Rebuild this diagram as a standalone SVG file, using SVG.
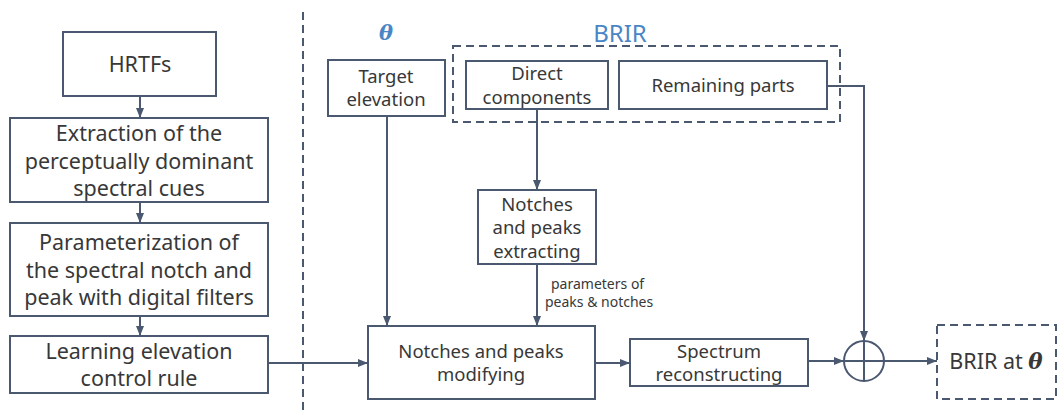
<svg xmlns="http://www.w3.org/2000/svg" width="1057" height="412" viewBox="0 0 1057 412">
<style>
.box{fill:#fff;stroke:#4a5870;stroke-width:2}
.dash{fill:none;stroke:#4a5870;stroke-width:2;stroke-dasharray:8,5}
.ln{fill:none;stroke:#4a5870;stroke-width:2}
.t{font-family:"Noto Sans","Open Sans",sans-serif;fill:#383838;text-anchor:middle}
.l{font-size:21.5px}
.m{font-size:18.5px}
.s{font-size:14px}
.b{fill:#4a86c5}
</style>
<defs>
<marker id="ar" viewBox="0 0 10 10" refX="10" refY="5" markerWidth="10" markerHeight="10" markerUnits="userSpaceOnUse" orient="auto">
<path d="M0,1 L10,5 L0,9 Z" fill="#4a5870"/>
</marker>
</defs>
<rect width="1057" height="412" fill="#fff"/>
<line x1="303" y1="12" x2="303" y2="412" class="dash"/>
<rect id="brirgroup" x="453" y="46" width="387" height="76" class="dash"/>
<g id="connectors">
<line x1="140" y1="96" x2="140" y2="118" class="ln" marker-end="url(#ar)"/>
<line x1="140" y1="202" x2="140" y2="223" class="ln" marker-end="url(#ar)"/>
<line x1="140" y1="316" x2="140" y2="336" class="ln" marker-end="url(#ar)"/>
<line x1="268" y1="363" x2="368" y2="363" class="ln" marker-end="url(#ar)"/>
<line x1="387" y1="116" x2="387" y2="326" class="ln" marker-end="url(#ar)"/>
<line x1="537" y1="109" x2="537" y2="190" class="ln" marker-end="url(#ar)"/>
<line x1="537" y1="264" x2="537" y2="326" class="ln" marker-end="url(#ar)"/>
<line x1="595" y1="363" x2="630" y2="363" class="ln" marker-end="url(#ar)"/>
<line x1="808" y1="361" x2="844" y2="361" class="ln" marker-end="url(#ar)"/>
<polyline points="827,86 864,86 864,341" class="ln" marker-end="url(#ar)"/>
<line x1="884" y1="361" x2="937" y2="361" class="ln" marker-end="url(#ar)"/>
</g>
<g id="hrtfs"><rect x="63" y="32" width="153" height="64" class="box"/><text x="140" y="72" class="t l">HRTFs</text></g>
<g id="extraction"><rect x="10" y="118" width="258" height="84" class="box"/>
<text class="t l"><tspan x="139" y="141">Extraction of the</tspan><tspan x="139" y="169">perceptually dominant</tspan><tspan x="139" y="196">spectral cues</tspan></text></g>
<g id="param"><rect x="10" y="223" width="258" height="93" class="box"/>
<text class="t l"><tspan x="139" y="250">Parameterization of</tspan><tspan x="139" y="278">the spectral notch and</tspan><tspan x="139" y="305">peak with digital filters</tspan></text></g>
<g id="learning"><rect x="10" y="336" width="258" height="57" class="box"/>
<text class="t l"><tspan x="139" y="359">Learning elevation</tspan><tspan x="139" y="386">control rule</tspan></text></g>
<g id="theta"><text x="386" y="40" font-family="'DejaVu Serif',serif" font-style="italic" font-weight="bold" font-size="21" fill="#4a86c5" text-anchor="middle">θ</text></g>
<g id="brirlabel"><text x="620" y="42" class="t b" font-size="24">BRIR</text></g>
<g id="target"><rect x="328" y="60" width="117" height="56" class="box"/>
<text class="t m"><tspan x="386" y="83">Target</tspan><tspan x="386" y="106">elevation</tspan></text></g>
<g id="direct"><rect x="466" y="61" width="142" height="48" class="box"/>
<text class="t m"><tspan x="537" y="80">Direct</tspan><tspan x="537" y="104">components</tspan></text></g>
<g id="remaining"><rect x="619" y="61" width="208" height="48" class="box"/>
<text x="723" y="92" class="t m">Remaining parts</text></g>
<g id="extracting"><rect x="478" y="190" width="118" height="74" class="box"/>
<text class="t m"><tspan x="537" y="211">Notches</tspan><tspan x="537" y="234">and peaks</tspan><tspan x="537" y="258">extracting</tspan></text></g>
<g id="paramlabel"><text class="t s"><tspan x="551" y="289" text-anchor="start">parameters of</tspan><tspan x="545" y="307" text-anchor="start">peaks &amp; notches</tspan></text></g>
<g id="modifying"><rect x="368" y="326" width="227" height="73" class="box"/>
<text class="t m"><tspan x="481" y="358">Notches and peaks</tspan><tspan x="481" y="381">modifying</tspan></text></g>
<g id="spectrum"><rect x="630" y="339" width="178" height="47" class="box"/>
<text class="t m"><tspan x="719" y="358">Spectrum</tspan><tspan x="719" y="381">reconstructing</tspan></text></g>
<g id="sum"><circle cx="864" cy="361" r="20" class="box"/><line x1="844" y1="361" x2="884" y2="361" class="ln"/><line x1="864" y1="341" x2="864" y2="381" class="ln"/></g>
<g id="brirat"><rect x="937" y="325" width="119" height="74" class="dash"/>
<text x="996" y="369" class="t" font-size="21.5">BRIR at <tspan font-family="'DejaVu Serif',serif" font-style="italic" font-weight="bold">θ</tspan></text></g>
</svg>
